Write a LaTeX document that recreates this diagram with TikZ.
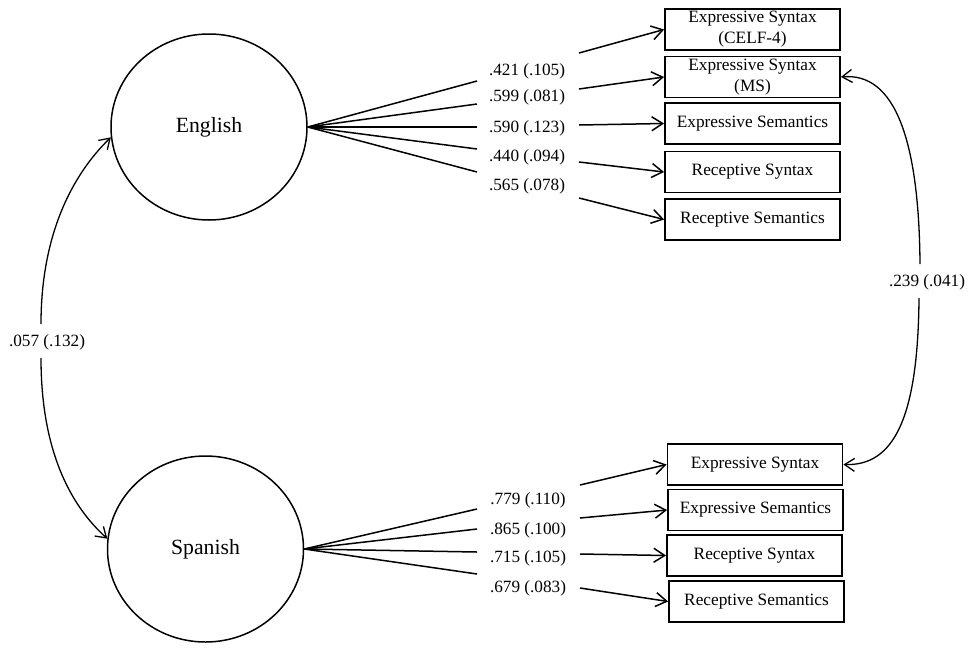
\documentclass[tikz,border=0pt]{standalone}
\usepackage{fontspec}
\setmainfont{Liberation Serif}
\usetikzlibrary{arrows.meta,shapes.geometric}
\begin{document}
\begin{tikzpicture}[x=1pt,y=-1pt,
  lat/.style={draw,ellipse,line width=1.5pt,minimum width=196pt,minimum height=186pt,inner sep=0pt,font=\fontsize{21.7}{26}\selectfont},
  obs/.style={draw,rectangle,line width=1.8pt,minimum width=175pt,minimum height=41pt,inner sep=0pt,align=center,font=\fontsize{17.3}{21}\selectfont},
  lbl/.style={inner sep=0pt,font=\fontsize{17.2}{20}\selectfont},
  conn/.style={line width=1.5pt},
  arr/.style={line width=1.5pt,-{Straight Barb[length=11pt,width=14pt]}},
  cov/.style={line width=1.3pt,-{Straight Barb[length=10pt,width=13pt]}}
]
\useasboundingbox (0,0) rectangle (973,648);

% latent variables
\node[lat] (eng) at (209,127) {English};
\node[lat] (spa) at (205.5,549) {Spanish};

% English indicators
\node[obs] (b1) at (752.5,29.5) {Expressive Syntax\\(CELF-4)};
\node[obs] (b2) at (752.5,77) {Expressive Syntax\\(MS)};
\node[obs] (b3) at (752.5,123.5) {Expressive Semantics};
\node[obs] (b4) at (752.5,172) {Receptive Syntax};
\node[obs] (b5) at (752.5,219.5) {Receptive Semantics};

% Spanish indicators
\node[obs] (s1) at (755,464.5) {Expressive Syntax};
\node[obs] (s2) at (755.5,510) {Expressive Semantics};
\node[obs] (s3) at (754.5,555.5) {Receptive Syntax};
\node[obs] (s4) at (756.5,601.5) {Receptive Semantics};

% loading labels
\node[lbl] (l1) at (527,71) {.421 (.105)};
\node[lbl] (l2) at (527,97) {.599 (.081)};
\node[lbl] (l3) at (527,128) {.590 (.123)};
\node[lbl] (l4) at (527,157) {.440 (.094)};
\node[lbl] (l5) at (527,186) {.565 (.078)};
\node[lbl] (m1) at (528,500) {.779 (.110)};
\node[lbl] (m2) at (528,530) {.865 (.100)};
\node[lbl] (m3) at (528,558) {.715 (.105)};
\node[lbl] (m4) at (528,588) {.679 (.083)};

% path break points
\coordinate (e1a) at (477,81);  \coordinate (e1b) at (579,53);
\coordinate (e2a) at (477,104); \coordinate (e2b) at (579,89);
\coordinate (e3a) at (477,127); \coordinate (e3b) at (579,125);
\coordinate (e4a) at (477,149); \coordinate (e4b) at (579,162);
\coordinate (e5a) at (477,172); \coordinate (e5b) at (579,198);
\coordinate (f1a) at (477,509); \coordinate (f1b) at (580,485);
\coordinate (f2a) at (477,529); \coordinate (f2b) at (580,518);
\coordinate (f3a) at (477,552); \coordinate (f3b) at (580,554);
\coordinate (f4a) at (477,574); \coordinate (f4b) at (580,588);

% English loadings
\draw[conn] (eng.east) -- (e1a);
\draw[conn] (eng.east) -- (e2a);
\draw[conn] (eng.east) -- (e3a);
\draw[conn] (eng.east) -- (e4a);
\draw[conn] (eng.east) -- (e5a);
\draw[arr] (e1b) -- (b1.west);
\draw[arr] (e2b) -- (b2.west);
\draw[arr] (e3b) -- (b3.west);
\draw[arr] (e4b) -- (b4.west);
\draw[arr] (e5b) -- (b5.west);

% Spanish loadings
\draw[conn] (spa.east) -- (f1a);
\draw[conn] (spa.east) -- (f2a);
\draw[conn] (spa.east) -- (f3a);
\draw[conn] (spa.east) -- (f4a);
\draw[arr] (f1b) -- (s1.west);
\draw[arr] (f2b) -- (s2.west);
\draw[arr] (f3b) -- (s3.west);
\draw[arr] (f4b) -- (s4.west);

% latent covariance
\node[lbl] (lc) at (47,342) {.057 (.132)};
\coordinate (lct) at (41,324);
\coordinate (lcb) at (41,358);
\draw[cov] (lct) .. controls (41,235) and (72,175) .. (eng.186);
\draw[cov] (lcb) .. controls (41,450) and (70,505) .. (spa.174);

% residual covariance
\node[lbl] (rc) at (927,282) {.239 (.041)};
\coordinate (rct) at (920,264);
\coordinate (rcb) at (919,298);
\draw[cov] (rct) .. controls (919,140) and (895,72) .. (b2.east);
\draw[cov] (rcb) .. controls (918,420) and (893,466) .. (s1.east);
\end{tikzpicture}
\end{document}
